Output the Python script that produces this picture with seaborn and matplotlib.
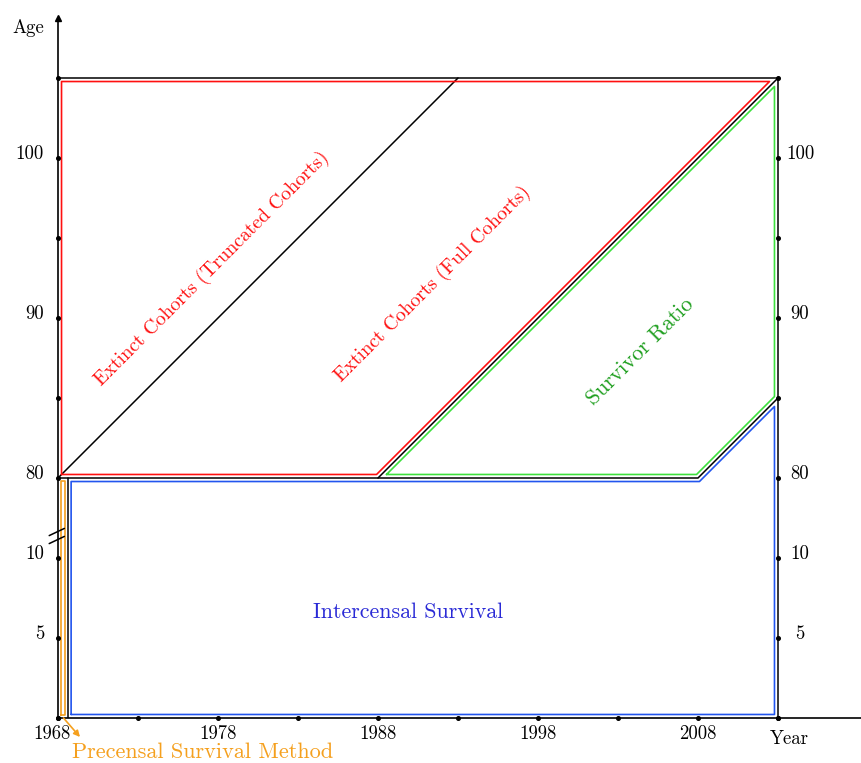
import numpy as np
import pandas as pd
import matplotlib
matplotlib.use("Agg")
import matplotlib.pyplot as plt
import seaborn as sns

# Lexis structure: years and ages that bound each estimation region
first_year = 1968
precensal_end = 1968.6
census_mid = 1988
census_last = 2008
last_year = 2013
old_age = 80
survivor_top = 85
max_age = 105
truncated_end = 1993

x_tick_years = [1968, 1978, 1988, 1998, 2008]
dot_years = [1968, 1973, 1978, 1983, 1988, 1993, 1998, 2003, 2008, 2013]
age_labels = [5, 10, 80, 90, 100]
dot_ages = [0, 5, 10, 80, 85, 90, 95, 100, 105]

region_labels = {
    "truncated": "Extinct Cohorts (Truncated Cohorts)",
    "full": "Extinct Cohorts (Full Cohorts)",
    "survivor": "Survivor Ratio",
    "intercensal": "Intercensal Survival",
    "precensal": "Precensal Survival Method",
}

RED = "#ff1010"
GREEN_LINE = "#3ee03e"
GREEN_TEXT = "#1f9f1f"
BLUE_LINE = "#2255ee"
BLUE_TEXT = "#2a2ad6"
ORANGE = "#f5a01e"

LOW_BAND = 15  # height of the compressed young-age band
SHIFT = old_age - LOW_BAND


def age_forward(a):
    a = np.asarray(a, dtype=float)
    return np.where(a > LOW_BAND, np.maximum(a, old_age) - SHIFT, a)


def age_inverse(d):
    d = np.asarray(d, dtype=float)
    return np.where(d > LOW_BAND, d + SHIFT, d)


def inset_polygon(pts, dist):
    """Offset a CCW convex polygon (year, age) inwards by dist display units."""
    p = np.array([(x, float(age_forward(y))) for x, y in pts])
    n = len(p)
    lines = []
    for i in range(n):
        a, b = p[i], p[(i + 1) % n]
        d = b - a
        nrm = np.array([-d[1], d[0]]) / np.hypot(*d)
        lines.append((a + nrm * dist, d))
    out = []
    for i in range(n):
        (p1, d1), (p2, d2) = lines[i - 1], lines[i]
        m = np.array([d1, -d2]).T
        t = np.linalg.solve(m, p2 - p1)
        out.append(p1 + t[0] * d1)
    out.append(out[0])
    out = np.array(out)
    return out[:, 0], age_inverse(out[:, 1])


sns.set_theme(style="white")
plt.rcParams["font.family"] = ["cmr10", "DejaVu Serif"]
plt.rcParams["axes.formatter.use_mathtext"] = True
plt.rcParams["mathtext.fontset"] = "cm"

W, H = 861, 763
fig = plt.figure(figsize=(W / 100, H / 100), dpi=100)
ax = fig.add_axes([58 / W, (H - 718) / H, (W - 58) / W, 700 / H])
ax.set_yscale("function", functions=(age_forward, age_inverse))
ax.set_xlim(first_year, first_year + (W - 58) / 16)
ax.set_ylim(0, 43.75 + SHIFT)
ax.set_xticks([])
ax.set_yticks([])
ax.set_xlabel("")
ax.set_ylabel("")
for side in ("top", "right"):
    ax.spines[side].set_visible(False)
for side in ("left", "bottom"):
    ax.spines[side].set_color("black")
    ax.spines[side].set_linewidth(1.2)
ax.set_facecolor("white")


def draw(xs, ys, color, lw=1.1):
    df = pd.DataFrame({"year": xs, "age": ys})
    sns.lineplot(data=df, x="year", y="age", sort=False, estimator=None,
                 color=color, lw=lw, ax=ax)


# Black region boundaries
draw([first_year, last_year], [max_age, max_age], "black")
draw([last_year, last_year], [0, max_age], "black")
draw([first_year, census_last, last_year], [old_age, old_age, survivor_top], "black")
draw([first_year, truncated_end], [old_age, max_age], "black")
draw([census_mid, last_year], [old_age, max_age], "black")
draw([precensal_end, precensal_end], [0, old_age], "black")

# Coloured outlines of the estimation regions
regions = [
    ([(first_year, old_age), (census_mid, old_age), (last_year, max_age),
      (first_year, max_age)], RED, 0.22),
    ([(census_mid, old_age), (census_last, old_age), (last_year, survivor_top),
      (last_year, max_age)], GREEN_LINE, 0.22),
    ([(precensal_end, 0), (last_year, 0), (last_year, survivor_top),
      (census_last, old_age), (precensal_end, old_age)], BLUE_LINE, 0.22),
    ([(first_year, 0), (precensal_end, 0), (precensal_end, old_age),
      (first_year, old_age)], ORANGE, 0.17),
]
for pts, col, d in regions:
    xs, ys = inset_polygon(pts, d)
    draw(xs, ys, col, lw=1.2)

# Axis dots
ax.plot([first_year] * len(dot_ages), dot_ages, "o", color="black", ms=2.6, clip_on=False, zorder=5)
ax.plot([last_year] * len(dot_ages), dot_ages, "o", color="black", ms=2.6, clip_on=False, zorder=5)
ax.plot(dot_years, [0] * len(dot_years), "o", color="black", ms=2.6, clip_on=False, zorder=5)

# Arrow tip of the age axis
ax.plot([first_year], [43.75 + SHIFT], marker="^", color="black", ms=4, clip_on=False, zorder=6)

# Axis break marks on the age axis
for off in (0.0, 0.5):
    ax.plot([first_year - 0.55, first_year + 0.4],
            [10.9 + off, 11.35 + off], color="black", lw=1.1, clip_on=False, zorder=6)

TICK_FS = 13.5
for a in age_labels:
    ax.annotate(str(a), (first_year, a), xytext=(-14, 4), textcoords="offset pixels",
                ha="right", va="center", fontsize=TICK_FS, color="black")
    ax.annotate(str(a), (last_year, a), xytext=(22, 4), textcoords="offset pixels",
                ha="center", va="center", fontsize=TICK_FS, color="black")
for yr in x_tick_years:
    dx = -6 if yr == first_year else 0
    ax.annotate(str(yr), (yr, 0), xytext=(dx, -16), textcoords="offset pixels",
                ha="center", va="center", fontsize=TICK_FS, color="black")
ax.annotate("Year", (last_year, 0), xytext=(11, -21), textcoords="offset pixels",
            ha="center", va="center", fontsize=TICK_FS, color="black")
ax.annotate("Age", (first_year, 43.75 + SHIFT), xytext=(-30, -10), textcoords="offset pixels",
            ha="center", va="center", fontsize=TICK_FS, color="black")

# Region labels
ax.text(1977.6, 93.1, region_labels["truncated"], rotation=45, rotation_mode="anchor",
        ha="center", va="center", fontsize=14.1, color=RED)
ax.text(1991.4, 92.1, region_labels["full"], rotation=45, rotation_mode="anchor",
        ha="center", va="center", fontsize=14.1, color=RED)
ax.text(2004.4, 87.9, region_labels["survivor"], rotation=45, rotation_mode="anchor",
        ha="center", va="center", fontsize=15.9, color=GREEN_TEXT)
ax.text(1989.9, 6.6, region_labels["intercensal"], ha="center", va="center",
        fontsize=15.8, color=BLUE_TEXT)

# Precensal label with its arrow
ax.annotate("", xy=(first_year + 22 / 16, -19 / 16), xytext=(first_year + 5.5 / 16, 0),
            arrowprops=dict(arrowstyle="-|>", color=ORANGE, lw=1.2, mutation_scale=9,
                            shrinkA=0, shrinkB=0),
            annotation_clip=False)
ax.text(first_year + 14 / 16, -34 / 16, region_labels["precensal"], ha="left", va="center",
        fontsize=16.0, color=ORANGE)

fig.savefig("out.png", dpi=100)
